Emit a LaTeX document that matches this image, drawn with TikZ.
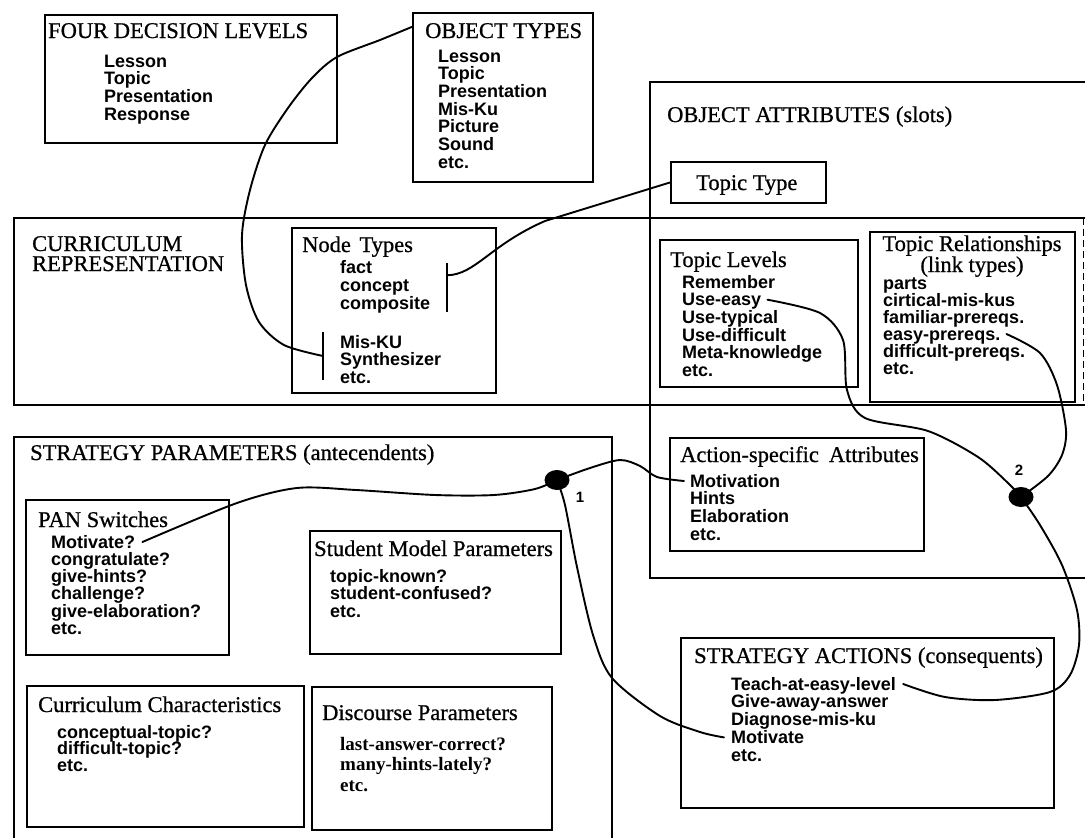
\documentclass[tikz,border=0pt]{standalone}
\usepackage{fontspec}
\setmainfont{Liberation Serif}
\setsansfont{Liberation Sans}
\newfontfamily\headfont{Liberation Serif}[FakeBold=0.7]
\usetikzlibrary{calc,fit,shapes.geometric}

% a rectangle given by two corners, kept as a named node
\newcommand\panel[6]{%
  \path (#3,#4) coordinate (#2-nw) (#5,#6) coordinate (#2-se);
  \node[#1, fit=(#2-nw)(#2-se)] (#2) {};}

% a column of entries, one named node per entry: prefix-1, prefix-2, ...
\newcommand\itemlist[6][itm]{%
  \foreach \t [count=\i] in {#6}{%
    \node[#1] (#2-\i) at (#3,{#4+(\i-1)*#5}) {\t};}}

\tikzset{
  frame/.style={draw, line width=1.7pt, inner sep=0pt},
  box/.style={draw, line width=2.2pt, inner sep=0pt},
  ttl/.style={anchor=base west, inner sep=0pt, font=\headfont\fontsize{22.5}{24}\selectfont},
  itm/.style={anchor=base west, inner sep=0pt, font=\sffamily\bfseries\fontsize{18}{18}\selectfont},
  seritm/.style={itm, font=\rmfamily\bfseries\fontsize{19}{20}\selectfont},
  link/.style={line width=1.9pt, line cap=round, line join=round},
  knot/.style={ellipse, fill=black, inner sep=0pt, minimum width=25pt, minimum height=20pt},
  tag/.style={inner sep=0pt, font=\sffamily\bfseries\fontsize{15}{15}\selectfont},
  bar/.style={line width=2pt},
}

\begin{document}
\begin{tikzpicture}[x=1pt, y=-1pt]
\useasboundingbox (0,0) rectangle (1085,838);
\fill[white] (0,0) rectangle (1085,838);
\clip (0,0) rectangle (1085,838);

% ---------- outer frames ----------
\panel{frame}{oab}{650}{82}{1100}{578}
\node[inner sep=0pt, fit={(14,218)(1083,405)}] (crb) {};
\draw[frame] ($(crb.north east)+(12,0)$) -- (crb.north west) -- (crb.south west) -- ($(crb.south east)+(12,0)$);
\draw[line width=0.9pt, dash pattern=on 7pt off 4pt] (crb.north east) -- (crb.south east);
\panel{frame}{spb}{14}{437}{612}{850}

% ---------- boxes ----------
\panel{box}{fdl}{45}{15}{337}{143}
\panel{box}{otb}{413}{13}{593}{182}
\panel{box}{ttb}{671}{162}{826}{203}
\panel{box}{ntb}{292}{228}{496}{393}
\panel{box}{lvb}{660}{240}{858}{387}
\panel{box}{rlb}{870}{232}{1075}{402}
\panel{box}{panb}{26}{500}{229}{655}
\panel{box}{smb}{310}{531}{561}{654}
\panel{box}{ccb}{27}{686}{304}{827}
\panel{box}{dpb}{312}{687}{552}{830}
\panel{box}{aeb}{670}{438}{924}{551}
\panel{box}{sab}{681}{638}{1054}{808}

% ---------- headings ----------
\node[ttl] (t-fdl) at (48,38) {FOUR DECISION LEVELS};
\node[ttl] (t-ot) at (425,38) {OBJECT TYPES};
\node[ttl] (t-oa) at (667,122) {OBJECT ATTRIBUTES (slots)};
\node[ttl] (t-tt) at (696,190) {Topic Type};
\node[ttl, align=left, font=\headfont\fontsize{22.5}{20}\selectfont] (t-cr) at (32,271) {CURRICULUM\\REPRESENTATION};
\node[ttl] (t-nt) at (302,252) {Node\hspace{3pt} Types};
\node[ttl] (t-lv) at (670,267) {Topic Levels};
\node[ttl, anchor=base] (t-rl1) at (972,251) {Topic Relationships};
\node[ttl, anchor=base] (t-rl2) at (972,272) {(link types)};
\node[ttl] (t-sp) at (30,460) {STRATEGY PARAMETERS (antecendents)};
\node[ttl] (t-pan) at (38,527) {PAN Switches};
\node[ttl] (t-sm) at (314,556) {Student Model Parameters};
\node[ttl] (t-cc) at (38,712) {Curriculum Characteristics};
\node[ttl] (t-dp) at (322,720) {Discourse Parameters};
\node[ttl] (t-ae) at (680,462) {Action-specific\hspace{10pt}Attributes};
\node[ttl] (t-sa) at (694,663) {STRATEGY ACTIONS (consequents)};

% ---------- entries ----------
\itemlist{fd}{104}{67}{17.7}{Lesson,Topic,Presentation,Response}
\itemlist{ot}{438}{62}{17.7}{Lesson,Topic,Presentation,Mis-Ku,Picture,Sound,etc.}
\itemlist{nta}{340}{273}{18}{fact,concept,composite}
\itemlist{ntb}{340}{348}{17.7}{Mis-KU,Synthesizer,etc.}
\itemlist{lv}{682}{288}{17.7}{Remember,Use-easy,Use-typical,Use-difficult,Meta-knowledge,etc.}
\itemlist{rl}{883}{289}{17}{parts,cirtical-mis-kus,familiar-prereqs.,easy-prereqs.,difficult-prereqs.,etc.}
\itemlist{pan}{51}{548}{17.3}{Motivate?,congratulate?,give-hints?,challenge?,give-elaboration?,etc.}
\itemlist{sm}{330}{582}{17.5}{topic-known?,student-confused?,etc.}
\itemlist{cc}{57}{738}{16.5}{conceptual-topic?,difficult-topic?,etc.}
\itemlist[seritm]{dp}{340}{750}{20.5}{last-answer-correct?,many-hints-lately?,etc.}
\itemlist{ae}{690}{487}{17.8}{Motivation,Hints,Elaboration,etc.}
\itemlist{sa}{731}{690}{17.8}{Teach-at-easy-level,Give-away-answer,Diagnose-mis-ku,Motivate,etc.}

% ---------- group brackets in Node Types ----------
\coordinate (barA-t) at (447,263); \coordinate (barA-b) at (447,312);
\coordinate (barB-t) at (323,332); \coordinate (barB-b) at (323,380);
\draw[bar] (barA-t) -- (barA-b);
\draw[bar] (barB-t) -- (barB-b);
\coordinate (barAm) at ($(barA-t)!0.25!(barA-b)$);
\coordinate (barBm) at ($(barB-t)!0.5!(barB-b)$);

% ---------- junction points ----------
\coordinate (k1c) at (557,480);
\coordinate (k2c) at (1021,497);

% ---------- connectors ----------
\coordinate (c1s) at ($(otb.north west)+(0,15)$);
\draw[link] plot[smooth] coordinates {(c1s) (380,40) (337,57) (312,78) (288,108) (265,145) (250,190) (242,235) (246,285) (259,322) (284,345) (barBm)};
\draw[link] (barAm) .. controls (475,275) and (490,245) .. (545,221) -- (ttb.west);

\coordinate (c3s) at ($(lv-2.base east)+(6,-6)$);
\draw[link] plot[smooth] coordinates {(c3s) (820,313) (843,340) (847,390) (865,418) (928,431) (978,457) (1008,483) (k2c)};

\coordinate (c4s) at ($(rl-4.base east)+(6,-6)$);
\draw[link] plot[smooth] coordinates {(c4s) (1040,353) (1057,385) (1066,430) (1062,455) (1048,476) (k2c)};

\coordinate (c5e) at ($(sa-1.base east)+(7,-6)$);
\draw[link] plot[smooth] coordinates {(k2c) (1040,525) (1062,565) (1077,610) (1079,645) (1070,675) (1050,692) (995,700) (945,697) (c5e)};

\coordinate (c6s) at ($(pan-1.base east)+(7,-6)$);
\draw[link] plot[smooth] coordinates {(c6s) (237,503) (297,488) (356,490) (435,495) (494,495) (535,489) (k1c)};

\coordinate (c7e) at ($(ae-1.base west)+(-6,-6)$);
\draw[link] plot[smooth] coordinates {(k1c) (590,468) (620,460) (640,466) (657,477) (c7e)};

\coordinate (c8e) at ($(sa-4.base west)+(-7,-6)$);
\draw[link] plot[smooth] coordinates {(k1c) (565,505) (577,567) (593,635) (612,678) (660,716) (700,732) (c8e)};

\node[knot] (k1) at (k1c) {};
\node[knot] (k2) at (k2c) {};
\node[tag] (n1) at (580,497) {1};
\node[tag] (n2) at (1019,470) {2};
\end{tikzpicture}
\end{document}
